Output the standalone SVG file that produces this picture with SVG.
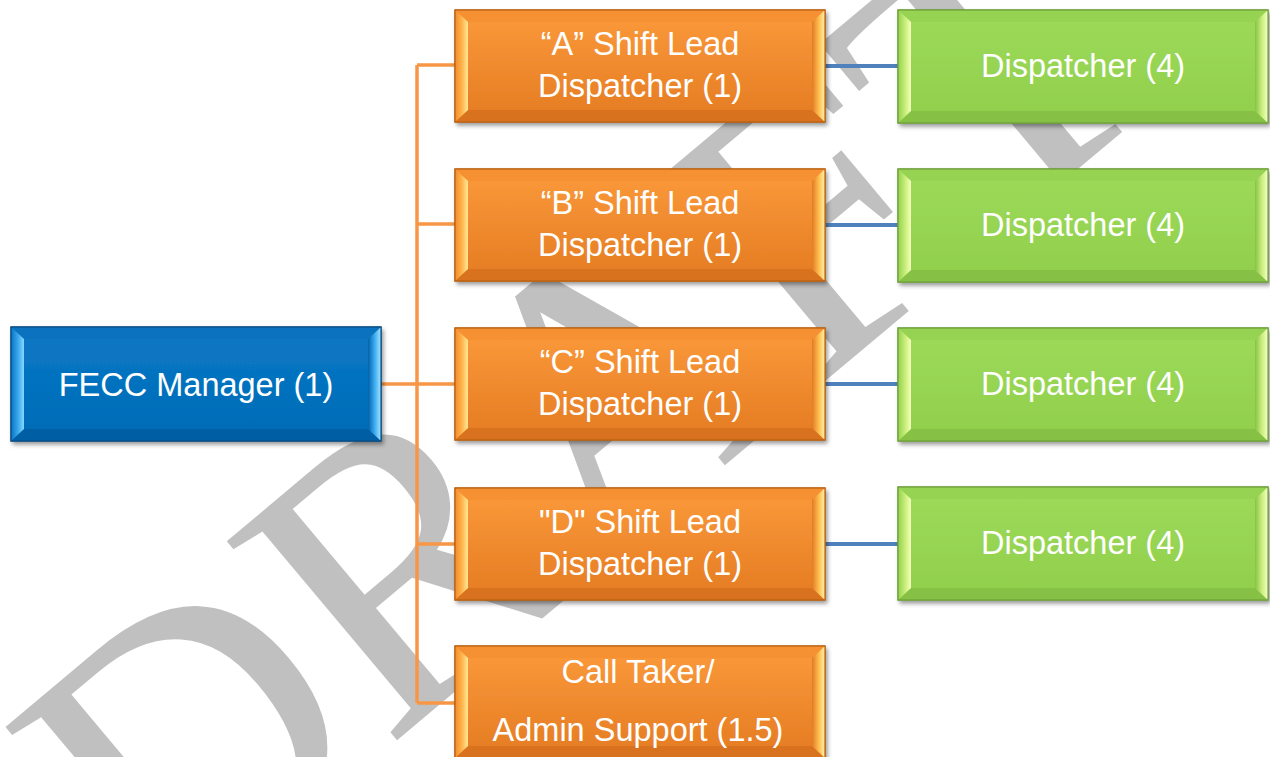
<svg xmlns="http://www.w3.org/2000/svg" xmlns:xlink="http://www.w3.org/1999/xlink" width="1270" height="757" viewBox="0 0 1270 757">
  <style>
    .label { font-family: "Liberation Sans", Arial, sans-serif; font-size: 32.5px; fill: #ffffff; text-anchor: middle; }
    .org { fill: none; stroke: #F79646; stroke-width: 3.5; }
    .blu { fill: none; stroke: #4F81BD; stroke-width: 4; }
    .mark { font-family: "Liberation Serif", "Times New Roman", serif; font-size: 400px; fill: #c0c0c0; }
  </style>
  <defs>
    <filter id="shadow" x="-5%" y="-10%" width="112%" height="130%">
      <feDropShadow dx="2" dy="3" stdDeviation="2" flood-color="#000000" flood-opacity="0.4"/>
    </filter>

    <!-- orange bevel -->
    <linearGradient id="o-face" x1="0" y1="0" x2="0" y2="1">
      <stop offset="0" stop-color="#FB9A3B"/>
      <stop offset="1" stop-color="#E47B22"/>
    </linearGradient>
    <linearGradient id="o-left" x1="0" y1="0" x2="1" y2="0">
      <stop offset="0" stop-color="#F18A2E"/>
      <stop offset="0.55" stop-color="#FFB64C"/>
      <stop offset="1" stop-color="#FFE896"/>
    </linearGradient>
    <linearGradient id="o-right" x1="0" y1="0" x2="1" y2="0">
      <stop offset="0" stop-color="#E07A24"/>
      <stop offset="0.5" stop-color="#FFBA4E"/>
      <stop offset="1" stop-color="#FFF3AA"/>
    </linearGradient>

    <!-- green bevel -->
    <linearGradient id="g-face" x1="0" y1="0" x2="0" y2="1">
      <stop offset="0" stop-color="#9DDA5A"/>
      <stop offset="1" stop-color="#90CF4B"/>
    </linearGradient>
    <linearGradient id="g-left" x1="0" y1="0" x2="1" y2="0">
      <stop offset="0" stop-color="#92D050"/>
      <stop offset="0.55" stop-color="#C8EE78"/>
      <stop offset="1" stop-color="#F6FFBE"/>
    </linearGradient>
    <linearGradient id="g-right" x1="0" y1="0" x2="1" y2="0">
      <stop offset="0" stop-color="#86C246"/>
      <stop offset="0.5" stop-color="#C6EC7A"/>
      <stop offset="1" stop-color="#F8FFC8"/>
    </linearGradient>

    <!-- blue bevel -->
    <linearGradient id="b-face" x1="0" y1="0" x2="0" y2="1">
      <stop offset="0" stop-color="#0A78C6"/>
      <stop offset="1" stop-color="#006BB6"/>
    </linearGradient>
    <linearGradient id="b-left" x1="0" y1="0" x2="1" y2="0">
      <stop offset="0" stop-color="#0A74C2"/>
      <stop offset="0.55" stop-color="#3AA8EC"/>
      <stop offset="1" stop-color="#86D8FF"/>
    </linearGradient>
    <linearGradient id="b-right" x1="0" y1="0" x2="1" y2="0">
      <stop offset="0" stop-color="#0062AA"/>
      <stop offset="0.5" stop-color="#3AAAF0"/>
      <stop offset="1" stop-color="#A6E4FF"/>
    </linearGradient>

    <!-- bevelled box frames, 370 wide -->
    <g id="frame-orange">
      <rect x="0" y="0" width="370" height="112" fill="url(#o-face)" stroke="#B9600F" stroke-width="1.2" filter="url(#shadow)"/>
      <polygon points="0,0 370,0 357,12 13,12" fill="#F59033"/>
      <polygon points="0,112 13,100 357,100 370,112" fill="#D8721E"/>
      <polygon points="0,0 13,12 13,100 0,112" fill="url(#o-left)"/>
      <polygon points="370,0 357,12 357,100 370,112" fill="url(#o-right)"/>
      <rect x="0" y="0" width="370" height="112" fill="none" stroke="#B9600F" stroke-width="1.2"/>
    </g>
    <g id="frame-green">
      <rect x="0" y="0" width="370" height="113" fill="url(#g-face)" stroke="#6E9E3A" stroke-width="1.2" filter="url(#shadow)"/>
      <polygon points="0,0 370,0 357,12 13,12" fill="#96D352"/>
      <polygon points="0,113 13,101 357,101 370,113" fill="#86C146"/>
      <polygon points="0,0 13,12 13,101 0,113" fill="url(#g-left)"/>
      <polygon points="370,0 357,12 357,101 370,113" fill="url(#g-right)"/>
      <rect x="0" y="0" width="370" height="113" fill="none" stroke="#6E9E3A" stroke-width="1.2"/>
    </g>
    <g id="frame-blue">
      <rect x="0" y="0" width="370" height="114" fill="url(#b-face)" stroke="#0B4E82" stroke-width="1.2" filter="url(#shadow)"/>
      <polygon points="0,0 370,0 357,12 13,12" fill="#0A72BE"/>
      <polygon points="0,114 13,102 357,102 370,114" fill="#005FA4"/>
      <polygon points="0,0 13,12 13,102 0,114" fill="url(#b-left)"/>
      <polygon points="370,0 357,12 357,102 370,114" fill="url(#b-right)"/>
      <rect x="0" y="0" width="370" height="114" fill="none" stroke="#0B4E82" stroke-width="1.2"/>
    </g>
  </defs>

  <rect x="0" y="0" width="1270" height="757" fill="#ffffff"/>

  <!-- watermark -->
  <text class="mark" x="165" y="935" transform="rotate(-40 165 935)">DRAFT</text>

  <!-- connectors -->
  <g id="connectors">
    <path class="org" d="M381,384 H417 M417,65 V703 M417,65 H455 M417,224 H455 M417,384 H455 M417,544 H455 M417,703 H455"/>
    <path class="blu" d="M825,66 H898 M825,225 H898 M825,384 H898 M825,544 H898"/>
  </g>

  <!-- manager -->
  <g id="fecc-manager">
    <use xlink:href="#frame-blue" x="11" y="327"/>
    <text class="label" x="196" y="396">FECC Manager (1)</text>
  </g>

  <!-- shift leads -->
  <g id="lead-a">
    <use xlink:href="#frame-orange" x="455" y="10"/>
    <text class="label" x="640" y="55">“A” Shift Lead</text>
    <text class="label" x="640" y="97">Dispatcher (1)</text>
  </g>
  <g id="lead-b">
    <use xlink:href="#frame-orange" x="455" y="169"/>
    <text class="label" x="640" y="214">“B” Shift Lead</text>
    <text class="label" x="640" y="256">Dispatcher (1)</text>
  </g>
  <g id="lead-c">
    <use xlink:href="#frame-orange" x="455" y="328"/>
    <text class="label" x="640" y="373">“C” Shift Lead</text>
    <text class="label" x="640" y="415">Dispatcher (1)</text>
  </g>
  <g id="lead-d">
    <use xlink:href="#frame-orange" x="455" y="488"/>
    <text class="label" x="640" y="533">"D" Shift Lead</text>
    <text class="label" x="640" y="575">Dispatcher (1)</text>
  </g>
  <g id="call-taker">
    <use xlink:href="#frame-orange" x="455" y="646"/>
    <text class="label" x="638" y="683">Call Taker/</text>
    <text class="label" x="638" y="741">Admin Support (1.5)</text>
  </g>

  <!-- dispatcher teams -->
  <g id="team-a">
    <use xlink:href="#frame-green" x="898" y="10"/>
    <text class="label" x="1083" y="77">Dispatcher (4)</text>
  </g>
  <g id="team-b">
    <use xlink:href="#frame-green" x="898" y="169"/>
    <text class="label" x="1083" y="236">Dispatcher (4)</text>
  </g>
  <g id="team-c">
    <use xlink:href="#frame-green" x="898" y="328"/>
    <text class="label" x="1083" y="395">Dispatcher (4)</text>
  </g>
  <g id="team-d">
    <use xlink:href="#frame-green" x="898" y="487"/>
    <text class="label" x="1083" y="554">Dispatcher (4)</text>
  </g>
</svg>
